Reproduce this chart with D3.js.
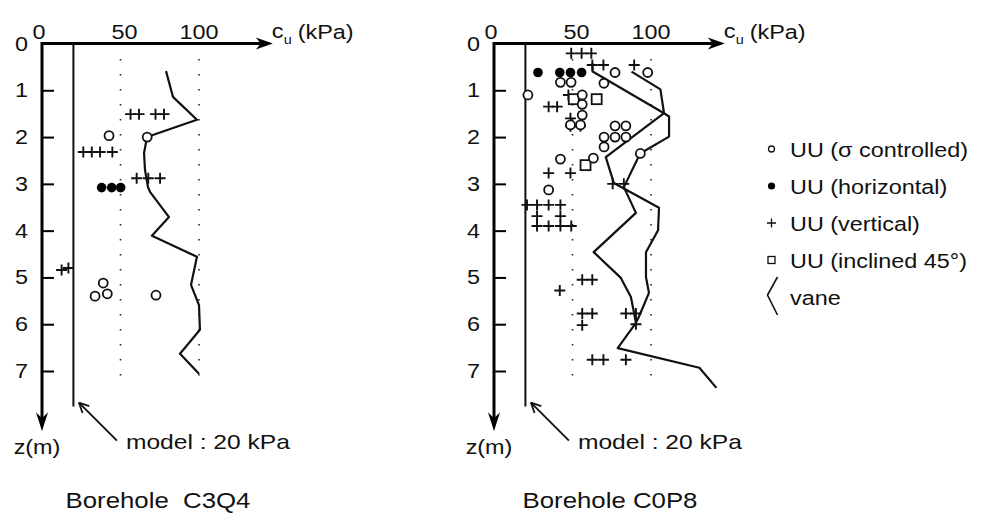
<!DOCTYPE html>
<html>
<head>
<meta charset="utf-8">
<script src="https://cdn.jsdelivr.net/npm/d3@7"></script>
<style>
  body { margin: 0; background: #fff; }
  svg text { font-family: "Liberation Sans", Arial, Helvetica, sans-serif; fill: #111; }
</style>
</head>
<body>
<div id="chart"></div>
<script>
// ---- data : [cu (kPa), z (m)] ----
const depthTicks = [0, 1, 2, 3, 4, 5, 6, 7];
const cuTicks = [0, 50, 100];
const modelCu = 20;

// Borehole C3Q4
const c3q4Sigma = [[42.7, 1.97], [67, 2.0], [39, 5.12], [33.8, 5.4], [41.6, 5.35], [72.6, 5.38]];
const c3q4Horiz = [[38, 3.08], [44.4, 3.08], [50.1, 3.08]];
const c3q4Vert = [[56.4, 1.51], [61.8, 1.51], [72.3, 1.51], [77.7, 1.51],
  [26.3, 2.32], [31.7, 2.32], [37, 2.32], [44.8, 2.32],
  [60.3, 2.88], [67.7, 2.88], [75.2, 2.88], [12.5, 4.84], [16.8, 4.80]];
const c3q4Incl = [];
const c3q4Vane = [[79, 0.59], [83.4, 1.14], [98.7, 1.63], [66.9, 2.0], [65, 2.34], [65.6, 2.70],
  [67.5, 3.07], [68.8, 3.17], [80.9, 3.71], [70, 4.11], [98.7, 4.56], [94.9, 5.16],
  [100, 5.59], [100.6, 6.12], [87.9, 6.63], [100, 7.06]];

// Borehole C0P8
const c0p8Sigma = [[77.1, 0.62], [97.9, 0.62], [70, 0.85], [42.3, 0.83], [49.1, 0.83], [21.6, 1.10],
  [56.2, 1.10], [56.2, 1.30], [56.2, 1.53], [48.7, 1.74], [55.1, 1.74], [77.1, 1.76], [84, 1.76],
  [70.1, 2.0], [77.1, 2.0], [84, 2.0], [70.1, 2.21], [93.2, 2.35], [63.3, 2.45], [42.3, 2.47], [34.8, 3.13]];
const c0p8Horiz = [[28, 0.62], [41.9, 0.62], [48.7, 0.62], [55.8, 0.62]];
const c0p8Vert = [[49.2, 0.21], [55.8, 0.21], [62, 0.21], [62.6, 0.46], [69.7, 0.46], [89.3, 0.46],
  [47.4, 1.10], [34.8, 1.35], [40.2, 1.35], [48.7, 1.6], [48.7, 1.77], [55.1, 1.77],
  [34.8, 2.77], [48.7, 2.77], [75.6, 3.0], [82.7, 3.0],
  [21, 3.45], [27.4, 3.45], [34.8, 3.45], [42.3, 3.45], [27.4, 3.69], [42.3, 3.69],
  [27.4, 3.9], [34.8, 3.9], [42.3, 3.9], [49.2, 3.9],
  [56.2, 5.05], [62.6, 5.05], [41.9, 5.28], [56.2, 5.77], [62.6, 5.77], [56.2, 6.02],
  [84, 5.77], [90.4, 5.77], [90.4, 6.0], [62.6, 6.76], [69.7, 6.76], [84, 6.76]];
const c0p8Incl = [[50.8, 1.19], [65.4, 1.19], [58.3, 2.6]];
const c0p8VaneA = [[62.8, 0.42], [62.8, 0.60], [108.3, 1.49], [71.2, 2.43], [76.3, 2.98], [105.1, 3.51],
  [104.5, 3.99], [96.8, 4.46], [96.8, 4.99], [98.7, 5.33], [92.3, 5.84], [90.4, 5.97],
  [78.8, 6.51], [130.8, 6.93], [141.7, 7.36]];
const c0p8VaneB = [[87.6, 0.60], [106, 0.98], [108.3, 1.49], [111.5, 1.56], [111.5, 1.99], [93.1, 2.35],
  [82.7, 3.07], [90.4, 3.62], [63.5, 4.46], [80.8, 5.01], [87.2, 5.42], [89.1, 5.74], [90.4, 5.97]];

const legendItems = [
  { type: "sigma", label: "UU (σ controlled)" },
  { type: "horiz", label: "UU (horizontal)" },
  { type: "vert", label: "UU (vertical)" },
  { type: "incl", label: "UU (inclined 45°)" },
  { type: "vane", label: "vane" }
];

// ---- layout ----
const width = 981, height = 514;
const panels = [
  { name: "Borehole  C3Q4", x0: 42, sigma: c3q4Sigma, horiz: c3q4Horiz, vert: c3q4Vert, incl: c3q4Incl, vanes: [c3q4Vane] },
  { name: "Borehole C0P8", x0: 494, sigma: c0p8Sigma, horiz: c0p8Horiz, vert: c0p8Vert, incl: c0p8Incl, vanes: [c0p8VaneA, c0p8VaneB] }
];
const FS = 19.5, STRETCH = 1.2;

const svg = d3.select("#chart").append("svg")
  .attr("width", width).attr("height", height);

// text is horizontally stretched in the original scan
function label(g, x, y, str, anchor, size) {
  return g.append("text")
    .attr("transform", `translate(${x},${y}) scale(${STRETCH},1)`)
    .attr("text-anchor", anchor || "start")
    .style("font-size", (size || FS) + "px")
    .text(str);
}

function drawPanel(p) {
  const g = svg.append("g");
  const x = d3.scaleLinear().domain([0, 100]).range([p.x0, p.x0 + 157]);
  const y = d3.scaleLinear().domain([0, 7]).range([43.5, 371]);

  // dotted reference lines
  [50, 100].forEach(v => {
    g.append("line")
      .attr("x1", x(v)).attr("x2", x(v))
      .attr("y1", y(0.33)).attr("y2", y(7.2))
      .attr("stroke", "#222").attr("stroke-width", 1.6)
      .attr("stroke-dasharray", "1.6,13.4");
  });

  // model line
  const modelBottom = y(7.76);
  g.append("line")
    .attr("x1", x(modelCu)).attr("x2", x(modelCu))
    .attr("y1", y(0)).attr("y2", modelBottom)
    .attr("stroke", "#111").attr("stroke-width", 2);

  // vane profiles
  const line = d3.line().x(d => x(d[0])).y(d => y(d[1]));
  p.vanes.forEach(v => {
    g.append("path").attr("d", line(v))
      .attr("fill", "none").attr("stroke", "#111")
      .attr("stroke-width", 2.2).attr("stroke-linejoin", "round");
  });

  // markers
  g.selectAll(".vert").data(p.vert).enter().append("path")
    .attr("d", d => `M${x(d[0]) - 5.5},${y(d[1])}h11M${x(d[0])},${y(d[1]) - 5.5}v11`)
    .attr("stroke", "#111").attr("stroke-width", 1.9);
  g.selectAll(".incl").data(p.incl).enter().append("rect")
    .attr("x", d => x(d[0]) - 5).attr("y", d => y(d[1]) - 5)
    .attr("width", 10).attr("height", 10)
    .attr("fill", "#fff").attr("stroke", "#111").attr("stroke-width", 1.8);
  g.selectAll(".sigma").data(p.sigma).enter().append("circle")
    .attr("cx", d => x(d[0])).attr("cy", d => y(d[1])).attr("r", 4.5)
    .attr("fill", "#fff").attr("stroke", "#111").attr("stroke-width", 1.8);
  g.selectAll(".horiz").data(p.horiz).enter().append("circle")
    .attr("cx", d => x(d[0])).attr("cy", d => y(d[1])).attr("r", 4.8)
    .attr("fill", "#000");

  // top axis with arrow
  const tipX = x(147), ax = x(0), ay = y(0);
  g.append("line").attr("x1", ax).attr("x2", tipX - 10).attr("y1", ay).attr("y2", ay)
    .attr("stroke", "#000").attr("stroke-width", 3);
  g.append("path")
    .attr("d", `M${tipX},${ay}L${tipX - 17},${ay - 6}L${tipX - 12},${ay}L${tipX - 17},${ay + 6}Z`)
    .attr("fill", "#000");

  // depth axis with arrow
  const tipY = y(8.29);
  g.append("line").attr("x1", ax).attr("x2", ax).attr("y1", ay - 1.5).attr("y2", tipY - 10)
    .attr("stroke", "#000").attr("stroke-width", 3);
  g.append("path")
    .attr("d", `M${ax},${tipY}L${ax - 6},${tipY - 19}L${ax},${tipY - 13}L${ax + 6},${tipY - 19}Z`)
    .attr("fill", "#000");

  // depth ticks
  g.append("g")
    .attr("transform", `translate(${ax},0)`)
    .call(d3.axisRight(y).tickValues(depthTicks.slice(1)).tickSize(12).tickFormat(""))
    .call(a => a.select(".domain").remove())
    .selectAll("line").attr("stroke", "#000").attr("stroke-width", 2);

  // tick labels
  depthTicks.forEach(d => label(g, ax - 14, y(d) + 7, d, "end"));
  cuTicks.forEach(v => label(g, x(v) + (v === 0 ? -3 : v === 50 ? 4 : 0), ay - 4.5, v, "middle"));

  // axis titles
  label(g, tipX - 1, ay - 5.5, "c");
  label(g, tipX + 11, ay + 0.5, "u", "start", 12);
  label(g, tipX + 25, ay - 4.5, "(kPa)");
  label(g, ax - 5, 454, "z(m)", "middle");

  // model annotation
  const tx = x(modelCu) + 5.5, ty = modelBottom - 4;
  const ex = tx + 38, ey = ty + 38;
  g.append("line").attr("x1", ex).attr("y1", ey).attr("x2", tx).attr("y2", ty)
    .attr("stroke", "#111").attr("stroke-width", 1.8);
  const ang = Math.atan2(ey - ty, ex - tx);
  [-0.45, 0.45].forEach(da => {
    g.append("line").attr("x1", tx).attr("y1", ty)
      .attr("x2", tx + 11 * Math.cos(ang + da)).attr("y2", ty + 11 * Math.sin(ang + da))
      .attr("stroke", "#111").attr("stroke-width", 1.8);
  });
  label(g, ex + 9, 449, "model : 20 kPa", "start", 20.5);

  // borehole name
  label(g, ax + 116, 508, p.name, "middle", 21.5).style("white-space", "pre");
}

panels.forEach(drawPanel);

// ---- legend ----
const lg = svg.append("g");
const legX = 771.5, legTextX = 790;
const rowY = d3.scalePoint().domain(d3.range(legendItems.length)).range([157, 305]);
legendItems.forEach((it, i) => {
  const by = rowY(i), cy = by - 8;
  if (it.type === "sigma") {
    lg.append("circle").attr("cx", legX).attr("cy", cy).attr("r", 3)
      .attr("fill", "#fff").attr("stroke", "#111").attr("stroke-width", 1.3);
  } else if (it.type === "horiz") {
    lg.append("circle").attr("cx", legX).attr("cy", cy).attr("r", 3.6).attr("fill", "#000");
  } else if (it.type === "vert") {
    lg.append("path").attr("d", `M${legX - 4.5},${cy}h9M${legX},${cy - 4.5}v9`)
      .attr("stroke", "#111").attr("stroke-width", 1.3);
  } else if (it.type === "incl") {
    lg.append("rect").attr("x", legX - 3.5).attr("y", cy - 3.5).attr("width", 7).attr("height", 7)
      .attr("fill", "#fff").attr("stroke", "#111").attr("stroke-width", 1.3);
  } else {
    lg.append("path").attr("d", `M${legX + 6},${cy - 20}L${legX - 4},${cy - 2}L${legX + 6},${cy + 18}`)
      .attr("fill", "none").attr("stroke", "#111").attr("stroke-width", 1.6);
  }
  label(lg, legTextX, by, it.label);
});
</script>
</body>
</html>
